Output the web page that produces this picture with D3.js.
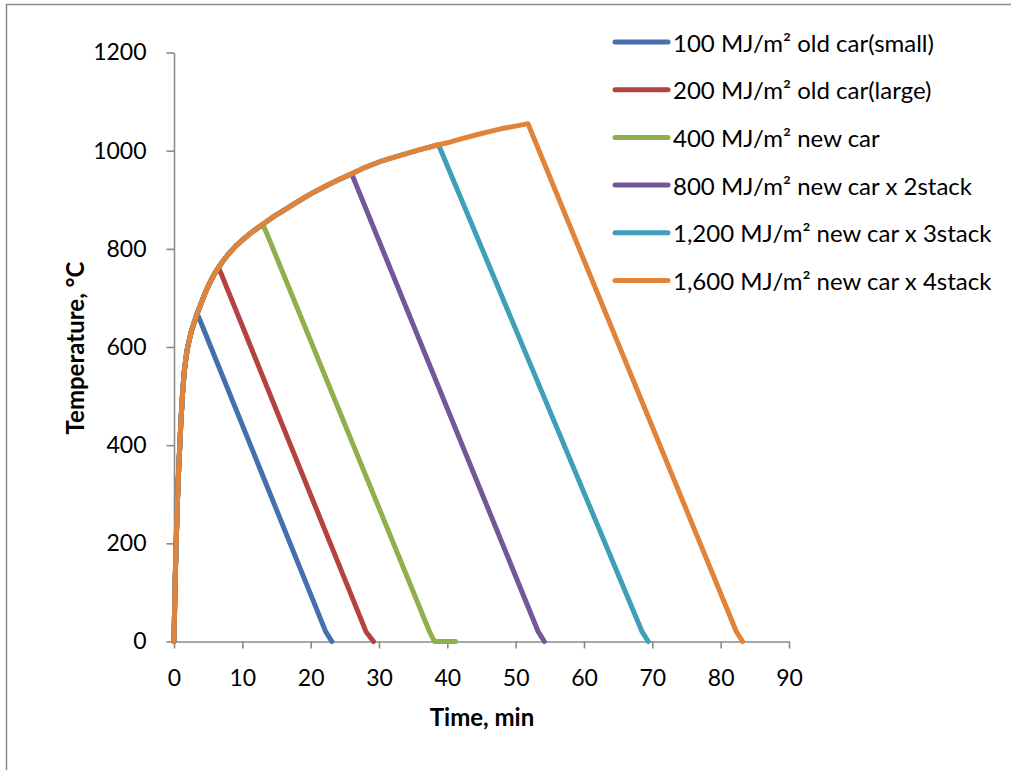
<!DOCTYPE html>
<html>
<head>
<meta charset="utf-8">
<script src="https://cdn.jsdelivr.net/npm/d3@7"></script>
<style>
  html, body { margin: 0; padding: 0; background: #fff; }
  svg { display: block; }
  text { font-family: Lato, "Open Sans", sans-serif; fill: #000; }
</style>
</head>
<body>
<svg id="chart" width="1011" height="770"></svg>
<script>
// ---- data ----
const xTicks = [0, 10, 20, 30, 40, 50, 60, 70, 80, 90];
const yTicks = [0, 200, 400, 600, 800, 1000, 1200];

// common heating curve (time in min, temperature in °C)
const heatTime = [0, 0.1, 0.2, 0.3, 0.4, 0.5, 0.65, 0.8, 1, 1.25, 1.5, 1.75, 2, 2.5, 3, 3.5, 4, 4.5, 5, 6, 7, 8, 9, 10, 11.5, 13, 14.5, 16, 18, 20, 22.5, 24, 26, 28, 30, 32, 34, 36, 38.7, 40, 42, 45, 48, 50];
const heatTemp = [0, 75, 140, 190, 240, 285, 340, 385, 445, 505, 550, 578, 600, 630, 652, 672, 690, 708, 724, 751, 772, 790, 805, 818, 835, 850, 865, 878, 895, 912, 930, 940, 953, 966, 977, 986, 994, 1002, 1012, 1016, 1024, 1035, 1045, 1050];

const seriesNames = [
  "100 MJ/m² old car(small)",
  "200 MJ/m² old car(large)",
  "400 MJ/m² new car",
  "800 MJ/m² new car x 2stack",
  "1,200 MJ/m² new car x 3stack",
  "1,600 MJ/m² new car x 4stack"
];
const seriesColors = ["#4470B0", "#B4423E", "#8FB04C", "#735799", "#3F9FB9", "#E2833A"];

// decay branch of every series, from its peak
const decayTime = [
  [3.5, 4.0, 22.2, 23.1],
  [6.5, 7.0, 28.1, 29.2],
  [13, 13.5, 37.4, 38.1, 41.2],
  [26, 26.5, 53.3, 54.2],
  [38.7, 39.2, 68.5, 69.4],
  [51.8, 52.3, 82.3, 83.2]
];
const decayTemp = [
  [664, 648, 20, 0],
  [762, 746, 20, 0],
  [850, 834, 20, 0, 0],
  [953, 936, 20, 0],
  [1012, 996, 20, 0],
  [1055, 1038, 20, 0]
];

// ---- drawing ----
const svg = d3.select("#chart");

// outer chart border (only top and left visible)
svg.append("rect")
  .attr("x", 6.5).attr("y", 4.5)
  .attr("width", 2000).attr("height", 2000)
  .attr("fill", "none").attr("stroke", "#8c8c8c").attr("stroke-width", 1.5);

const x = d3.scaleLinear().domain([0, 90]).range([174, 789]);
const y = d3.scaleLinear().domain([0, 1200]).range([641.5, 52.5]);

const axisColor = "#8a8a8a";

const gx = svg.append("g")
  .attr("transform", `translate(0,${y(0)})`)
  .call(d3.axisBottom(x).tickValues(xTicks).tickFormat(d3.format("d"))
    .tickSize(7).tickPadding(12).tickSizeOuter(0));
const gy = svg.append("g")
  .attr("transform", `translate(${x(0)},0)`)
  .call(d3.axisLeft(y).tickValues(yTicks).tickFormat(d3.format("d"))
    .tickSize(7.5).tickPadding(20).tickSizeOuter(0));

[gx, gy].forEach(g => {
  g.select(".domain").attr("stroke", axisColor).attr("stroke-width", 1.6);
  g.selectAll(".tick line").attr("stroke", axisColor).attr("stroke-width", 1.6);
  g.selectAll(".tick text")
    .attr("fill", "#000")
    .style("font-family", "Lato, 'Open Sans', sans-serif")
    .style("font-size", "23px");
});
gx.selectAll(".tick text").attr("dy", "0").attr("y", 0)
  .attr("transform", "translate(0,35)").attr("dominant-baseline", "central");

// axis titles
svg.append("text")
  .attr("x", 482).attr("y", 716)
  .attr("text-anchor", "middle").attr("dominant-baseline", "central")
  .style("font-weight", "bold").style("font-size", "24px")
  .text("Time, min");
svg.append("text")
  .attr("transform", `translate(74,348) rotate(-90)`)
  .attr("text-anchor", "middle").attr("dominant-baseline", "central")
  .style("font-weight", "bold").style("font-size", "24px")
  .text("Temperature, °C");

// series lines
const line = d3.line()
  .x(d => x(d[0])).y(d => y(d[1]))
  .curve(d3.curveLinear);

seriesNames.forEach((name, i) => {
  const peak = decayTime[i][0];
  const pts = [];
  heatTime.forEach((t, k) => { if (t < peak) pts.push([t, heatTemp[k]]); });
  decayTime[i].forEach((t, k) => pts.push([t, decayTemp[i][k]]));
  svg.append("path")
    .datum(pts)
    .attr("d", line)
    .attr("fill", "none")
    .attr("stroke", seriesColors[i])
    .attr("stroke-width", 5)
    .attr("stroke-linejoin", "round")
    .attr("stroke-linecap", "round");
});

// legend
const legend = svg.append("g");
seriesNames.forEach((name, i) => {
  const yy = 42 + i * 47.7;
  legend.append("line")
    .attr("x1", 615).attr("x2", 668)
    .attr("y1", yy).attr("y2", yy)
    .attr("stroke", seriesColors[i]).attr("stroke-width", 5)
    .attr("stroke-linecap", "round");
  legend.append("text")
    .attr("x", 673).attr("y", yy)
    .attr("dominant-baseline", "central")
    .style("font-size", "24px")
    .text(name);
});
</script>
</body>
</html>
